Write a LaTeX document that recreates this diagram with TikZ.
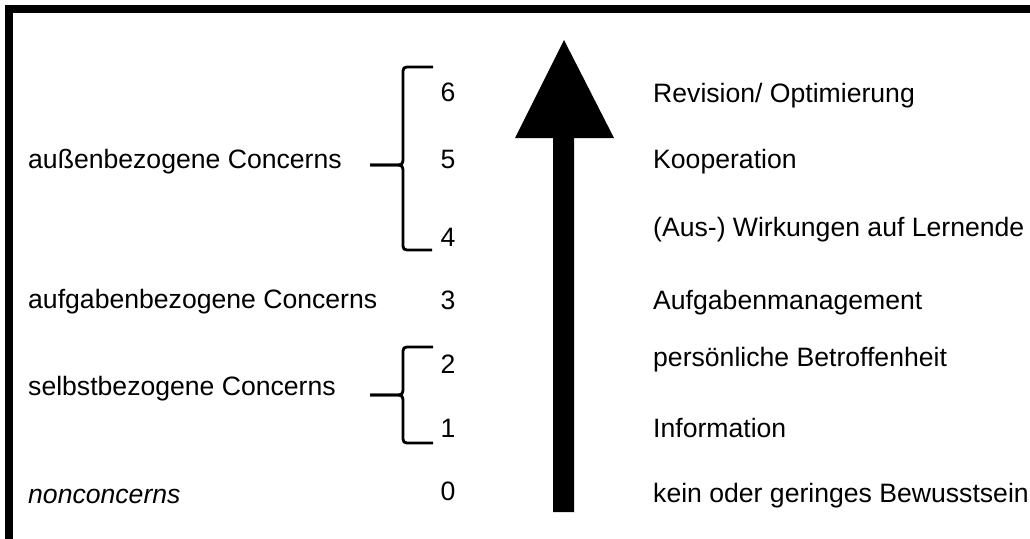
\documentclass[tikz,border=0pt]{standalone}
\usepackage{fontspec}
\setmainfont{Liberation Sans}
\begin{document}
\begin{tikzpicture}[x=1pt,y=-1pt,
  lbl/.style={anchor=base west,inner sep=0pt,font=\fontsize{26.6}{30}\selectfont},
  num/.style={anchor=base,inner sep=0pt,font=\fontsize{26.6}{30}\selectfont},
  brace/.style={line width=2.8pt,line cap=butt,line join=round},
  frame/.style={line width=8pt,line join=miter}]
\useasboundingbox (0,0) rectangle (1030,538);
% frame (top and left edges)
\draw[frame] (9,540) -- (9,9) -- (1032,9);
% arrow
\fill (553,512) -- (574,512) -- (574,138) -- (614,138) -- (564,40) -- (515,138) -- (553,138) -- cycle;
% left labels
\node[lbl] (aussen) at (28,168) {außenbezogene Concerns};
\node[lbl] (aufg) at (28,308) {aufgabenbezogene Concerns};
\node[lbl] (selbst) at (28,395) {selbstbezogene Concerns};
\node[lbl] (non) at (28,503) {\itshape nonconcerns};
% numbers
\node[num] (n6) at (448,101) {6};
\node[num] (n5) at (448,168) {5};
\node[num] (n4) at (448,246) {4};
\node[num] (n3) at (448,309) {3};
\node[num] (n2) at (448,373) {2};
\node[num] (n1) at (448,437) {1};
\node[num] (n0) at (448,500) {0};
% right labels
\node[lbl] (r6) at (653,102) {Revision/ Optimierung};
\node[lbl] (r5) at (653,168) {Kooperation};
\node[lbl] (r4) at (653,236) {(Aus-) Wirkungen auf Lernende};
\node[lbl] (r3) at (653,309) {Aufgabenmanagement};
\node[lbl] (r2) at (653,366) {persönliche Betroffenheit};
\node[lbl] (r1) at (653,437) {Information};
\node[lbl] (r0) at (653,502) {kein oder geringes Bewusstsein};
% braces
\draw[brace] (433,67) -- (411,67) .. controls (403,67) .. (403,75) -- (403,156)
  .. controls (403,165) .. (394,165) -- (370,165);
\draw[brace] (370,165) -- (394,165) .. controls (403,165) .. (403,174) -- (403,242)
  .. controls (403,250) .. (411,250) -- (432,250);
\draw[brace] (433,347) -- (411,347) .. controls (403,347) .. (403,355) -- (403,386)
  .. controls (403,395) .. (394,395) -- (370,395);
\draw[brace] (370,395) -- (394,395) .. controls (403,395) .. (403,404) -- (403,435)
  .. controls (403,443) .. (411,443) -- (433,443);
\end{tikzpicture}
\end{document}
